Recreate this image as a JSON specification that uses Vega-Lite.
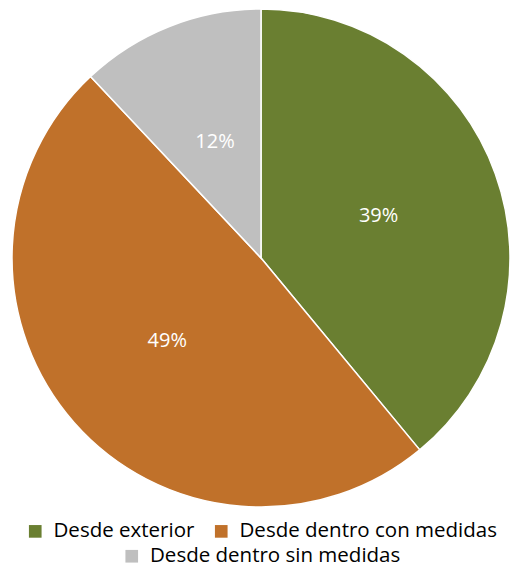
{
  "$schema": "https://vega.github.io/schema/vega-lite/v6.json",
  "width": 522,
  "height": 516,
  "padding": 0,
  "autosize": {"type": "pad"},
  "background": "white",
  "data": {"values": [
    {"cat": "Desde exterior", "value": 39, "idx": 1, "label": "39%"},
    {"cat": "Desde dentro con medidas", "value": 49, "idx": 2, "label": "49%"},
    {"cat": "Desde dentro sin medidas", "value": 12, "idx": 3, "label": "12%"}
  ]},
  "layer": [
    {
      "mark": {"type": "arc", "outerRadius": 249, "stroke": "white", "strokeWidth": 1.5},
      "encoding": {
        "theta": {"field": "value", "type": "quantitative", "stack": true},
        "order": {"field": "idx", "type": "quantitative"},
        "color": {
          "field": "cat", "type": "nominal",
          "scale": {"domain": ["Desde exterior", "Desde dentro con medidas", "Desde dentro sin medidas"], "range": ["#6A7F31", "#C0712A", "#BFBFBF"]},
          "legend": {"values": ["Desde exterior", "Desde dentro con medidas"], "title": null, "orient": "bottom", "direction": "horizontal"}
        }
      }
    },
    {
      "mark": {"type": "text", "radius": 125, "fontSize": 20, "font": "Open Sans", "fill": "white"},
      "encoding": {
        "theta": {"field": "value", "type": "quantitative", "stack": true},
        "order": {"field": "idx", "type": "quantitative"},
        "text": {"field": "label", "type": "nominal"}
      }
    },
    {
      "transform": [{"filter": "datum.idx == 3"}],
      "mark": {"type": "arc", "opacity": 0, "outerRadius": 1},
      "encoding": {
        "theta": {"field": "value", "type": "quantitative", "stack": true},
        "color": {
          "field": "cat", "type": "nominal",
          "scale": {"domain": ["Desde dentro sin medidas"], "range": ["#BFBFBF"]},
          "legend": {"title": null, "orient": "bottom", "direction": "horizontal", "symbolOpacity": 1}
        }
      }
    }
  ],
  "resolve": {"scale": {"color": "independent"}},
  "config": {
    "view": {"stroke": null},
    "legend": {
      "layout": {"bottom": {"direction": "vertical", "anchor": "middle", "center": true, "margin": 4}},
      "labelFont": "Open Sans",
      "labelFontSize": 20.5,
      "labelColor": "#000000",
      "labelOffset": 8,
      "symbolType": "square",
      "symbolSize": 160,
      "symbolStrokeWidth": 0,
      "offset": 5,
      "padding": 0,
      "columnPadding": 16,
      "labelLimit": 400
    }
  }
}
